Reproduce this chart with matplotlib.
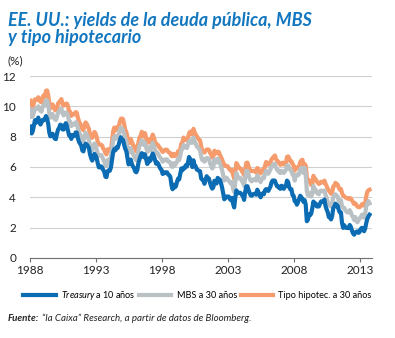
import matplotlib
matplotlib.use("Agg")
import matplotlib.pyplot as plt
import numpy as np

plt.rcParams['font.family'] = ['Lato', 'DejaVu Sans']
plt.rcParams['mathtext.fontset'] = 'custom'
plt.rcParams['mathtext.it'] = 'Lato:italic'
plt.rcParams['mathtext.rm'] = 'Lato'

# monthly values, Jan 1988 .. Sep 2013
treasury = [
    8.67, 8.21, 8.37, 8.72, 9.09, 8.92, 9.06, 9.26, 8.98, 8.80, 8.96, 9.11,
    9.09, 9.17, 9.36, 9.18, 8.86, 8.28, 8.02, 8.11, 8.19, 8.01, 7.87, 7.84,
    8.21, 8.47, 8.59, 8.79, 8.76, 8.48, 8.47, 8.75, 8.89, 8.72, 8.39, 8.08,
    8.09, 7.85, 8.11, 8.04, 8.07, 8.28, 8.27, 7.90, 7.65, 7.53, 7.42, 7.09,
    7.03, 7.34, 7.54, 7.48, 7.39, 7.26, 6.84, 6.59, 6.42, 6.59, 6.87, 6.77,
    6.60, 6.26, 5.98, 5.97, 6.04, 5.96, 5.81, 5.68, 5.36, 5.33, 5.72, 5.77,
    5.75, 5.97, 6.48, 6.97, 7.18, 7.10, 7.30, 7.24, 7.46, 7.74, 7.96, 7.81,
    7.78, 7.47, 7.20, 7.06, 6.63, 6.17, 6.28, 6.49, 6.20, 6.04, 5.93, 5.71,
    5.65, 5.81, 6.27, 6.51, 6.74, 6.91, 6.87, 6.64, 6.83, 6.53, 6.20, 6.30,
    6.58, 6.42, 6.69, 6.89, 6.71, 6.49, 6.22, 6.30, 6.21, 6.03, 5.88, 5.81,
    5.54, 5.57, 5.65, 5.64, 5.65, 5.50, 5.46, 5.34, 4.81, 4.53, 4.83, 4.65,
    4.72, 5.00, 5.23, 5.18, 5.54, 5.90, 5.79, 5.94, 5.92, 6.11, 6.03, 6.28,
    6.66, 6.52, 6.26, 5.99, 6.44, 6.10, 6.05, 5.83, 5.80, 5.74, 5.72, 5.24,
    5.16, 5.10, 4.89, 5.14, 5.39, 5.28, 5.24, 4.97, 4.73, 4.57, 4.65, 5.09,
    5.04, 4.91, 5.28, 5.21, 5.16, 4.93, 4.65, 4.26, 3.87, 3.94, 4.05, 4.03,
    4.05, 3.90, 3.81, 3.96, 3.57, 3.33, 3.98, 4.45, 4.27, 4.29, 4.30, 4.27,
    4.15, 4.08, 3.83, 4.35, 4.72, 4.73, 4.50, 4.28, 4.13, 4.10, 4.19, 4.23,
    4.22, 4.17, 4.50, 4.34, 4.14, 4.00, 4.18, 4.26, 4.20, 4.46, 4.54, 4.47,
    4.42, 4.57, 4.72, 4.99, 5.11, 5.11, 5.09, 4.88, 4.72, 4.73, 4.60, 4.56,
    4.76, 4.72, 4.56, 4.69, 4.75, 5.10, 5.00, 4.67, 4.52, 4.53, 4.15, 4.10,
    3.74, 3.74, 3.51, 3.68, 3.88, 4.10, 4.01, 3.89, 3.69, 3.81, 3.53, 2.42,
    2.52, 2.87, 2.82, 2.93, 3.29, 3.72, 3.56, 3.59, 3.40, 3.39, 3.40, 3.59,
    3.73, 3.69, 3.73, 3.85, 3.42, 3.20, 3.01, 2.70, 2.65, 2.54, 2.76, 3.29,
    3.39, 3.58, 3.41, 3.46, 3.17, 3.00, 3.00, 2.30, 1.98, 2.15, 2.01, 1.98,
    1.97, 1.97, 2.17, 2.05, 1.80, 1.62, 1.53, 1.68, 1.72, 1.75, 1.65, 1.72,
    1.91, 1.98, 1.96, 1.76, 1.93, 2.30, 2.58, 2.74, 2.85,
]
mbs = [
    9.80, 9.30, 9.35, 9.60, 9.85, 9.85, 9.85, 10.0, 9.85, 9.70, 9.65, 10.0,
    10.1, 10.05, 10.4, 10.4, 10.1, 9.55, 9.25, 9.35, 9.50, 9.30, 9.15, 9.10,
    9.30, 9.60, 9.65, 9.80, 9.85, 9.55, 9.40, 9.50, 9.60, 9.55, 9.35, 9.00,
    9.00, 8.70, 8.85, 8.80, 8.80, 8.95, 8.90, 8.55, 8.30, 8.15, 8.00, 7.75,
    7.70, 8.05, 8.25, 8.15, 7.95, 7.80, 7.40, 7.20, 7.10, 7.30, 7.55, 7.45,
    7.20, 6.90, 6.75, 6.75, 6.80, 6.70, 6.50, 6.35, 6.10, 6.05, 6.45, 6.50,
    6.40, 6.60, 7.20, 7.75, 8.00, 7.85, 8.05, 7.95, 8.10, 8.40, 8.60, 8.55,
    8.45, 8.15, 7.85, 7.70, 7.30, 6.95, 7.00, 7.25, 7.00, 6.85, 6.75, 6.55,
    6.45, 6.60, 7.10, 7.40, 7.55, 7.75, 7.70, 7.45, 7.60, 7.30, 7.00, 7.05,
    7.30, 7.10, 7.40, 7.60, 7.40, 7.15, 6.90, 6.95, 6.85, 6.70, 6.60, 6.50,
    6.35, 6.40, 6.50, 6.50, 6.50, 6.35, 6.35, 6.30, 6.05, 6.00, 6.25, 6.10,
    6.20, 6.35, 6.55, 6.45, 6.75, 7.10, 7.20, 7.45, 7.30, 7.35, 7.25, 7.45,
    7.70, 7.75, 7.60, 7.60, 7.95, 7.65, 7.55, 7.35, 7.30, 7.20, 7.10, 6.70,
    6.45, 6.50, 6.35, 6.50, 6.60, 6.55, 6.55, 6.25, 6.10, 5.90, 6.00, 6.50,
    6.40, 6.30, 6.55, 6.45, 6.25, 6.05, 5.80, 5.45, 5.10, 5.20, 5.30, 5.20,
    5.10, 5.00, 4.90, 5.00, 4.55, 4.35, 4.95, 5.60, 5.35, 5.25, 5.30, 5.25,
    5.05, 5.00, 4.75, 5.30, 5.75, 5.75, 5.50, 5.25, 5.10, 5.05, 5.15, 5.20,
    5.15, 5.10, 5.45, 5.30, 5.15, 5.00, 5.20, 5.30, 5.25, 5.55, 5.75, 5.60,
    5.55, 5.70, 5.85, 6.05, 6.10, 6.20, 6.20, 5.95, 5.80, 5.80, 5.65, 5.60,
    5.75, 5.70, 5.60, 5.70, 5.80, 6.10, 6.10, 5.95, 5.80, 5.75, 5.50, 5.45,
    5.10, 5.45, 5.50, 5.45, 5.55, 5.85, 5.95, 5.90, 5.60, 5.95, 5.50, 4.40,
    4.15, 4.30, 4.10, 4.05, 4.25, 4.75, 4.50, 4.50, 4.30, 4.25, 4.20, 4.40,
    4.45, 4.40, 4.40, 4.45, 4.15, 3.95, 3.70, 3.50, 3.45, 3.40, 3.60, 4.00,
    4.10, 4.20, 4.10, 4.05, 3.75, 3.70, 3.80, 3.40, 3.30, 3.30, 3.15, 3.05,
    3.00, 3.00, 3.15, 3.00, 2.80, 2.70, 2.50, 2.70, 2.45, 2.35, 2.50, 2.60,
    2.70, 2.85, 2.85, 2.65, 2.90, 3.40, 3.60, 3.75, 3.60,
]
hipotec = [
    10.38, 9.89, 9.93, 10.20, 10.46, 10.46, 10.43, 10.60, 10.48, 10.30, 10.27, 10.61,
    10.73, 10.65, 11.03, 11.05, 10.77, 10.20, 9.88, 9.99, 10.13, 9.95, 9.77, 9.74,
    9.90, 10.20, 10.27, 10.37, 10.48, 10.16, 10.04, 10.10, 10.18, 10.18, 10.01, 9.67,
    9.64, 9.37, 9.50, 9.49, 9.47, 9.62, 9.58, 9.24, 9.01, 8.86, 8.71, 8.50,
    8.43, 8.76, 8.94, 8.85, 8.67, 8.51, 8.13, 7.98, 7.92, 8.09, 8.31, 8.22,
    7.99, 7.68, 7.50, 7.47, 7.47, 7.42, 7.21, 7.11, 6.92, 6.83, 7.16, 7.17,
    7.06, 7.15, 7.68, 8.32, 8.60, 8.40, 8.61, 8.51, 8.64, 8.93, 9.17, 9.20,
    9.15, 8.83, 8.46, 8.32, 7.96, 7.57, 7.61, 7.86, 7.64, 7.48, 7.38, 7.20,
    7.03, 7.08, 7.62, 7.93, 8.07, 8.32, 8.25, 8.00, 8.23, 7.92, 7.62, 7.60,
    7.82, 7.65, 7.90, 8.14, 7.94, 7.69, 7.50, 7.48, 7.43, 7.29, 7.21, 7.10,
    6.99, 7.04, 7.13, 7.14, 7.14, 7.00, 6.95, 6.92, 6.72, 6.71, 6.87, 6.72,
    6.79, 6.81, 7.04, 6.92, 7.15, 7.55, 7.63, 7.94, 7.82, 7.85, 7.74, 7.91,
    8.21, 8.33, 8.24, 8.15, 8.52, 8.29, 8.15, 8.03, 7.91, 7.80, 7.75, 7.38,
    7.03, 7.05, 6.95, 7.08, 7.15, 7.16, 7.13, 6.95, 6.82, 6.62, 6.66, 7.07,
    7.00, 6.89, 7.01, 6.99, 6.81, 6.65, 6.49, 6.29, 6.09, 6.11, 6.07, 6.05,
    5.92, 5.84, 5.75, 5.81, 5.48, 5.23, 5.63, 6.26, 6.15, 5.95, 5.93, 5.88,
    5.71, 5.64, 5.45, 5.83, 6.27, 6.29, 6.06, 5.87, 5.75, 5.72, 5.73, 5.75,
    5.71, 5.63, 5.93, 5.86, 5.72, 5.58, 5.70, 5.82, 5.77, 6.07, 6.33, 6.27,
    6.15, 6.25, 6.32, 6.51, 6.60, 6.68, 6.76, 6.52, 6.40, 6.36, 6.24, 6.14,
    6.22, 6.29, 6.16, 6.18, 6.26, 6.66, 6.70, 6.57, 6.38, 6.38, 6.21, 6.10,
    5.76, 5.92, 5.97, 5.92, 6.04, 6.32, 6.43, 6.48, 6.04, 6.20, 6.09, 5.33,
    5.06, 5.13, 5.00, 4.81, 4.86, 5.42, 5.22, 5.19, 5.06, 4.95, 4.88, 4.93,
    5.03, 4.99, 4.97, 5.10, 4.89, 4.74, 4.56, 4.43, 4.35, 4.23, 4.30, 4.71,
    4.76, 4.95, 4.84, 4.84, 4.64, 4.51, 4.55, 4.27, 4.11, 4.07, 3.99, 3.96,
    3.92, 3.89, 3.95, 3.91, 3.80, 3.68, 3.55, 3.60, 3.50, 3.38, 3.35, 3.35,
    3.41, 3.53, 3.57, 3.45, 3.54, 4.07, 4.37, 4.46, 4.50,
]
years = [1988, 1993, 1998, 2003, 2008, 2013]

x = 1988 + (np.arange(len(treasury)) + 0.5) / 12.0

blue = '#0b6cb4'
grey = '#bac1c4'
orange = '#f59b6c'
title_blue = '#1377c0'

fig = plt.figure(figsize=(3.95, 3.38), dpi=100)
ax = fig.add_axes([0.076, 0.237, 0.866, 0.538])

ax.plot(x, treasury, color=blue, lw=3.0, solid_joinstyle='round',
        label=r'$\it{Treasury}\,$a 10 años', zorder=3)
ax.plot(x, mbs, color=grey, lw=3.0, solid_joinstyle='round',
        label='MBS a 30 años', zorder=2)
ax.plot(x, hipotec, color=orange, lw=3.0, solid_joinstyle='round',
        label='Tipo hipotec. a 30 años', zorder=1)

ax.set_xlim(1988, 2013.9)
ax.set_ylim(0, 12)
ax.set_yticks(range(0, 13, 2))
ax.set_xticks(years)
ax.yaxis.grid(True, color='#d0d0d0', lw=0.8)
ax.set_axisbelow(True)
for s in ['top', 'right', 'left']:
    ax.spines[s].set_visible(False)
ax.spines['bottom'].set_color('#707070')
ax.spines['bottom'].set_linewidth(0.8)
ax.tick_params(axis='y', length=0, labelsize=8.5, colors='#222222', pad=10)
ax.tick_params(axis='x', length=3, width=0.8, color='#707070',
               labelsize=8.5, labelcolor='#222222', pad=2)

fig.text(0.02, 0.923, 'EE. UU.: yields de la deuda pública, MBS',
         fontsize=13, fontweight='bold', fontstyle='italic', color=title_blue)
fig.text(0.02, 0.873, 'y tipo hipotecario',
         fontsize=13, fontweight='bold', fontstyle='italic', color=title_blue)
fig.text(0.02, 0.81, '(%)', fontsize=8.5, color='#222222')

ax.legend(loc='center', bbox_to_anchor=(0.5, 0.125), bbox_transform=fig.transFigure,
          ncol=3, frameon=False, fontsize=6.6, handlelength=3.5,
          handletextpad=0.6, columnspacing=0.4)

fig.canvas.draw()
r = fig.canvas.get_renderer()
t1 = fig.text(0.02, 0.05, 'Fuente:', fontsize=7, fontweight='bold',
              fontstyle='italic', color='#222222')
bb = t1.get_window_extent(renderer=r)
x2 = (bb.x1 + 3) / fig.bbox.width
fig.text(x2, 0.05, '\u201cla Caixa\u201d Research, a partir de datos de Bloomberg.',
         fontsize=7, fontstyle='italic', color='#222222')

fig.savefig('out.png', dpi=100)
